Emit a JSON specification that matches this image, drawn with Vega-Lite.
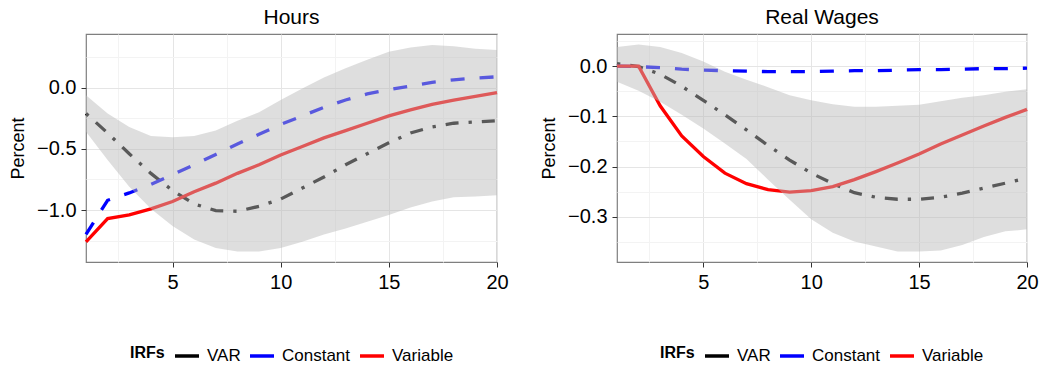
{
  "$schema": "https://vega.github.io/schema/vega-lite/v6.json",
  "padding": {"left": 8, "top": 6, "right": 4, "bottom": 4},
  "background": "white",
  "datasets": {
    "irf": [
      {"panel": "Hours", "x": 1, "VAR": -0.21, "Constant": -1.2, "Variable": -1.26, "lo": -0.36, "hi": -0.06},
      {"panel": "Hours", "x": 2, "VAR": -0.37, "Constant": -0.92, "Variable": -1.07, "lo": -0.59, "hi": -0.21},
      {"panel": "Hours", "x": 3, "VAR": -0.54, "Constant": -0.86, "Variable": -1.04, "lo": -0.81, "hi": -0.32},
      {"panel": "Hours", "x": 4, "VAR": -0.7, "Constant": -0.79, "Variable": -0.99, "lo": -0.99, "hi": -0.395},
      {"panel": "Hours", "x": 5, "VAR": -0.84, "Constant": -0.71, "Variable": -0.93, "lo": -1.13, "hi": -0.405},
      {"panel": "Hours", "x": 6, "VAR": -0.95, "Constant": -0.63, "Variable": -0.85, "lo": -1.24, "hi": -0.395},
      {"panel": "Hours", "x": 7, "VAR": -1.005, "Constant": -0.545, "Variable": -0.78, "lo": -1.31, "hi": -0.35},
      {"panel": "Hours", "x": 8, "VAR": -1.01, "Constant": -0.46, "Variable": -0.7, "lo": -1.34, "hi": -0.27},
      {"panel": "Hours", "x": 9, "VAR": -0.97, "Constant": -0.38, "Variable": -0.63, "lo": -1.34, "hi": -0.2},
      {"panel": "Hours", "x": 10, "VAR": -0.91, "Constant": -0.3, "Variable": -0.55, "lo": -1.31, "hi": -0.1},
      {"panel": "Hours", "x": 11, "VAR": -0.82, "Constant": -0.23, "Variable": -0.48, "lo": -1.26, "hi": -0.005},
      {"panel": "Hours", "x": 12, "VAR": -0.73, "Constant": -0.16, "Variable": -0.41, "lo": -1.2, "hi": 0.085},
      {"panel": "Hours", "x": 13, "VAR": -0.63, "Constant": -0.1, "Variable": -0.35, "lo": -1.15, "hi": 0.16},
      {"panel": "Hours", "x": 14, "VAR": -0.54, "Constant": -0.05, "Variable": -0.29, "lo": -1.095, "hi": 0.23},
      {"panel": "Hours", "x": 15, "VAR": -0.45, "Constant": -0.015, "Variable": -0.23, "lo": -1.04, "hi": 0.295},
      {"panel": "Hours", "x": 16, "VAR": -0.37, "Constant": 0.015, "Variable": -0.18, "lo": -0.98, "hi": 0.33},
      {"panel": "Hours", "x": 17, "VAR": -0.32, "Constant": 0.045, "Variable": -0.135, "lo": -0.93, "hi": 0.35},
      {"panel": "Hours", "x": 18, "VAR": -0.29, "Constant": 0.065, "Variable": -0.1, "lo": -0.895, "hi": 0.34},
      {"panel": "Hours", "x": 19, "VAR": -0.28, "Constant": 0.08, "Variable": -0.07, "lo": -0.89, "hi": 0.32},
      {"panel": "Hours", "x": 20, "VAR": -0.27, "Constant": 0.09, "Variable": -0.04, "lo": -0.88, "hi": 0.31},
      {"panel": "Real Wages", "x": 1, "VAR": 0.005, "Constant": 0, "Variable": 0, "lo": -0.031, "hi": 0.038},
      {"panel": "Real Wages", "x": 2, "VAR": -0.001, "Constant": -0.001, "Variable": 0, "lo": -0.049, "hi": 0.043},
      {"panel": "Real Wages", "x": 3, "VAR": -0.016, "Constant": -0.003, "Variable": -0.079, "lo": -0.071, "hi": 0.038},
      {"panel": "Real Wages", "x": 4, "VAR": -0.04, "Constant": -0.006, "Variable": -0.139, "lo": -0.097, "hi": 0.026},
      {"panel": "Real Wages", "x": 5, "VAR": -0.068, "Constant": -0.008, "Variable": -0.18, "lo": -0.124, "hi": 0.009},
      {"panel": "Real Wages", "x": 6, "VAR": -0.097, "Constant": -0.009, "Variable": -0.213, "lo": -0.154, "hi": -0.011},
      {"panel": "Real Wages", "x": 7, "VAR": -0.127, "Constant": -0.01, "Variable": -0.234, "lo": -0.185, "hi": -0.027},
      {"panel": "Real Wages", "x": 8, "VAR": -0.158, "Constant": -0.011, "Variable": -0.246, "lo": -0.226, "hi": -0.042},
      {"panel": "Real Wages", "x": 9, "VAR": -0.187, "Constant": -0.011, "Variable": -0.251, "lo": -0.266, "hi": -0.058},
      {"panel": "Real Wages", "x": 10, "VAR": -0.213, "Constant": -0.011, "Variable": -0.248, "lo": -0.305, "hi": -0.068},
      {"panel": "Real Wages", "x": 11, "VAR": -0.234, "Constant": -0.01, "Variable": -0.24, "lo": -0.332, "hi": -0.076},
      {"panel": "Real Wages", "x": 12, "VAR": -0.252, "Constant": -0.009, "Variable": -0.226, "lo": -0.349, "hi": -0.081},
      {"panel": "Real Wages", "x": 13, "VAR": -0.261, "Constant": -0.009, "Variable": -0.21, "lo": -0.359, "hi": -0.081},
      {"panel": "Real Wages", "x": 14, "VAR": -0.265, "Constant": -0.008, "Variable": -0.193, "lo": -0.369, "hi": -0.079},
      {"panel": "Real Wages", "x": 15, "VAR": -0.265, "Constant": -0.007, "Variable": -0.175, "lo": -0.369, "hi": -0.077},
      {"panel": "Real Wages", "x": 16, "VAR": -0.261, "Constant": -0.007, "Variable": -0.155, "lo": -0.367, "hi": -0.07},
      {"panel": "Real Wages", "x": 17, "VAR": -0.253, "Constant": -0.006, "Variable": -0.137, "lo": -0.356, "hi": -0.063},
      {"panel": "Real Wages", "x": 18, "VAR": -0.243, "Constant": -0.005, "Variable": -0.119, "lo": -0.34, "hi": -0.058},
      {"panel": "Real Wages", "x": 19, "VAR": -0.233, "Constant": -0.005, "Variable": -0.102, "lo": -0.329, "hi": -0.051},
      {"panel": "Real Wages", "x": 20, "VAR": -0.223, "Constant": -0.004, "Variable": -0.086, "lo": -0.325, "hi": -0.046}
    ]
  },
  "spacing": 30,
  "resolve": {"scale": {"color": "independent", "y": "independent"}, "legend": {"color": "independent"}},
  "hconcat": [
    {
      "title": "Hours",
      "width": 411,
      "height": 228,
      "data": {"name": "irf"},
      "transform": [
        {"filter": "datum.panel === 'Hours'"},
        {"fold": ["VAR", "Constant", "Variable"], "as": ["series", "y"]}
      ],
      "encoding": {
        "x": {"field": "x", "type": "quantitative", "title": null,
          "scale": {"domain": [1, 20], "nice": false, "zero": false},
          "axis": {"values": [2.5, 5, 7.5, 10, 12.5, 15, 17.5, 20], "labelFlush": false,
            "labelExpr": "datum.value % 5 === 0 ? datum.label : ''",
            "gridColor": {"condition": {"test": "datum.value % 5 === 0", "value": "#e5e5e5"}, "value": "#f3f3f3"},
            "tickOpacity": {"condition": {"test": "datum.value % 5 === 0", "value": 1}, "value": 0}}},
        "y": {"field": "y", "type": "quantitative", "title": "Percent",
          "scale": {"domain": [-1.425, 0.44], "nice": false, "zero": false},
          "axis": {"values": [-1.25, -1, -0.75, -0.5, -0.25, 0, 0.25], "format": ".1f",
            "labelExpr": "datum.value === -1 || datum.value === -0.5 || datum.value === 0 ? datum.label : ''",
            "gridColor": {"condition": {"test": "datum.value === -1 || datum.value === -0.5 || datum.value === 0", "value": "#e5e5e5"}, "value": "#f3f3f3"},
            "tickOpacity": {"condition": {"test": "datum.value === -1 || datum.value === -0.5 || datum.value === 0", "value": 1}, "value": 0}}},
        "color": {"field": "series", "type": "nominal", "title": "IRFs",
          "scale": {"domain": ["VAR", "Constant", "Variable"], "range": ["#000000", "#0000ff", "#ff0000"]}}
      },
      "layer": [
        {"transform": [{"filter": "datum.series === 'VAR'"}],
         "mark": {"type": "line", "strokeWidth": 3.3, "strokeCap": "butt", "strokeDash": [3.3, 10, 13, 10]}},
        {"transform": [{"filter": "datum.series === 'Constant'"}],
         "mark": {"type": "line", "strokeWidth": 3.3, "strokeCap": "butt", "strokeDash": [14, 15]}},
        {"transform": [{"filter": "datum.series === 'Variable'"}],
         "mark": {"type": "line", "strokeWidth": 3.3, "strokeCap": "butt"}},
        {"transform": [{"filter": "datum.series === 'VAR'"}],
          "mark": {"type": "area", "color": "#bababa", "opacity": 0.48},
          "encoding": {
            "y": {"field": "lo", "type": "quantitative", "title": "Percent"},
            "y2": {"field": "hi"},
            "color": {"value": "#bababa"}
          }
        }
      ]
    },
    {
      "title": "Real Wages",
      "width": 410,
      "height": 228,
      "data": {"name": "irf"},
      "transform": [
        {"filter": "datum.panel === 'Real Wages'"},
        {"fold": ["VAR", "Constant", "Variable"], "as": ["series", "y"]}
      ],
      "encoding": {
        "x": {"field": "x", "type": "quantitative", "title": null,
          "scale": {"domain": [1, 20], "nice": false, "zero": false},
          "axis": {"values": [2.5, 5, 7.5, 10, 12.5, 15, 17.5, 20], "labelFlush": false,
            "labelExpr": "datum.value % 5 === 0 ? datum.label : ''",
            "gridColor": {"condition": {"test": "datum.value % 5 === 0", "value": "#e5e5e5"}, "value": "#f3f3f3"},
            "tickOpacity": {"condition": {"test": "datum.value % 5 === 0", "value": 1}, "value": 0}}},
        "y": {"field": "y", "type": "quantitative", "title": "Percent",
          "scale": {"domain": [-0.39, 0.064], "nice": false, "zero": false},
          "axis": {"values": [-0.35, -0.3, -0.25, -0.2, -0.15, -0.1, -0.05, 0, 0.05], "format": ".1f",
            "labelExpr": "datum.value === -0.3 || datum.value === -0.2 || datum.value === -0.1 || datum.value === 0 ? datum.label : ''",
            "gridColor": {"condition": {"test": "datum.value === -0.3 || datum.value === -0.2 || datum.value === -0.1 || datum.value === 0", "value": "#e5e5e5"}, "value": "#f3f3f3"},
            "tickOpacity": {"condition": {"test": "datum.value === -0.3 || datum.value === -0.2 || datum.value === -0.1 || datum.value === 0", "value": 1}, "value": 0}}},
        "color": {"field": "series", "type": "nominal", "title": "IRFs",
          "scale": {"domain": ["VAR", "Constant", "Variable"], "range": ["#000000", "#0000ff", "#ff0000"]}}
      },
      "layer": [
        {"transform": [{"filter": "datum.series === 'VAR'"}],
         "mark": {"type": "line", "strokeWidth": 3.3, "strokeCap": "butt", "strokeDash": [3.3, 10, 13, 10]}},
        {"transform": [{"filter": "datum.series === 'Constant'"}],
         "mark": {"type": "line", "strokeWidth": 3.3, "strokeCap": "butt", "strokeDash": [14, 15]}},
        {"transform": [{"filter": "datum.series === 'Variable'"}],
         "mark": {"type": "line", "strokeWidth": 3.3, "strokeCap": "butt"}},
        {"transform": [{"filter": "datum.series === 'VAR'"}],
          "mark": {"type": "area", "color": "#bababa", "opacity": 0.48},
          "encoding": {
            "y": {"field": "lo", "type": "quantitative", "title": "Percent"},
            "y2": {"field": "hi"},
            "color": {"value": "#bababa"}
          }
        }
      ]
    }
  ],
  "config": {
    "font": "Liberation Sans",
    "view": {"stroke": "#7f7f7f", "strokeWidth": 1.2},
    "title": {"fontSize": 21, "fontWeight": "normal", "anchor": "middle", "offset": 6, "color": "#000000"},
    "axis": {"labelFontSize": 20, "labelColor": "#000000", "titleFontSize": 18, "titleFontWeight": "normal", "titleColor": "#000000",
      "tickSize": 5, "tickColor": "#333333", "domain": false, "labelPadding": 5, "titlePadding": 9, "gridWidth": 1},
    "legend": {"orient": "bottom", "direction": "horizontal", "titleOrient": "left", "titleFontSize": 16, "titleFontWeight": "bold",
      "titleColor": "#000000", "labelFontSize": 17, "labelColor": "#000000", "symbolType": "stroke", "symbolStrokeWidth": 3.5,
      "symbolSize": 576, "labelOffset": 6, "columnPadding": 2, "titlePadding": 8, "offset": 50,
      "layout": {"bottom": {"anchor": "middle"}}}
  }
}
